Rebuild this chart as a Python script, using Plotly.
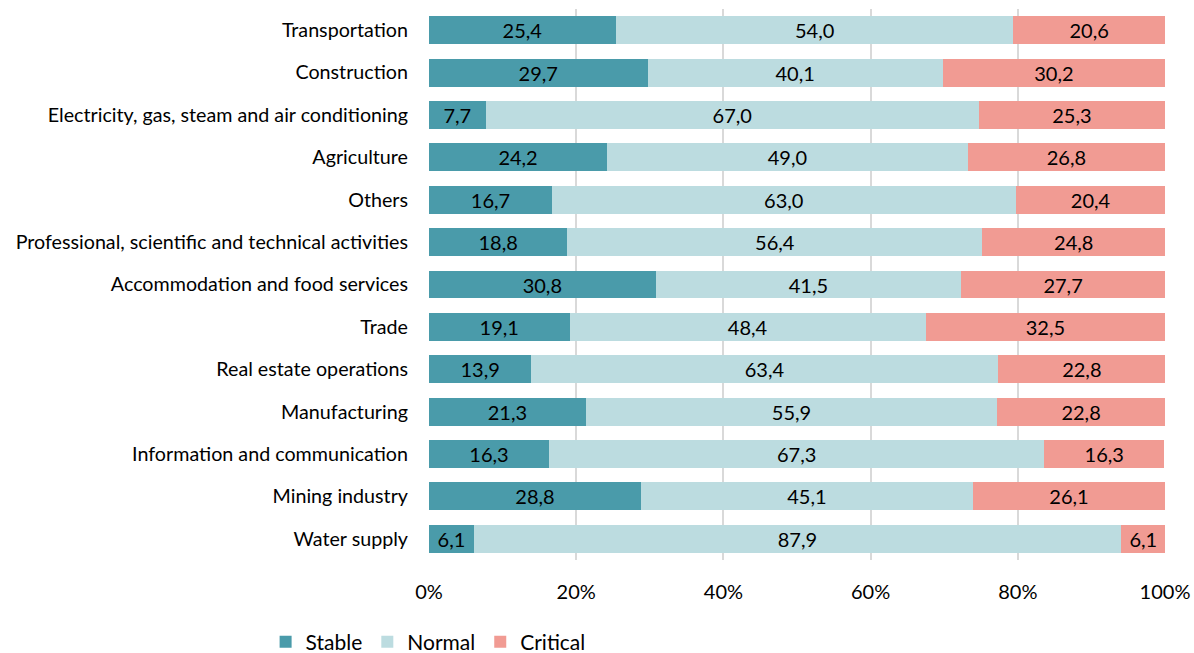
import plotly.graph_objects as go

categories = ["Transportation", "Construction", "Electricity, gas, steam and air conditioning",
              "Agriculture", "Others", "Professional, scientific and technical activities",
              "Accommodation and food services", "Trade", "Real estate operations",
              "Manufacturing", "Information and communication", "Mining industry", "Water supply"]
stable = [25.4, 29.7, 7.7, 24.2, 16.7, 18.8, 30.8, 19.1, 13.9, 21.3, 16.3, 28.8, 6.1]
normal = [54.0, 40.1, 67.0, 49.0, 63.0, 56.4, 41.5, 48.4, 63.4, 55.9, 67.3, 45.1, 87.9]
critical = [20.6, 30.2, 25.3, 26.8, 20.4, 24.8, 27.7, 32.5, 22.8, 22.8, 16.3, 26.1, 6.1]
tick_vals = [0, 20, 40, 60, 80, 100]
tick_text = ["0%", "20%", "40%", "60%", "80%", "100%"]

FONT = "Lato"
series = [("Stable", stable, "#4A9BAA"), ("Normal", normal, "#BCDCE0"), ("Critical", critical, "#F19B93")]

fig = go.Figure()
for name, vals, col in series:
    fig.add_trace(go.Bar(
        y=categories, x=vals, name=name, orientation="h",
        marker=dict(color=col, line=dict(width=0)),
        text=[f"{v:.1f}".replace(".", ",") for v in vals],
        textposition="inside", insidetextanchor="middle",
        textfont=dict(family=FONT, size=20, color="black"),
        constraintext="none",
    ))

fig.update_layout(
    barmode="stack", bargap=0.34,
    width=1194, height=673,
    margin=dict(l=429, r=29, t=9, b=113),
    plot_bgcolor="white", paper_bgcolor="white",
    font=dict(family=FONT, size=20, color="black"),
    uniformtext=dict(minsize=20, mode="show"),
    xaxis=dict(range=[0, 100], tickvals=tick_vals, ticktext=tick_text, automargin=False,
               showgrid=True, gridcolor="#D9D9D9", gridwidth=1.5, zeroline=False,
               tickfont=dict(size=20), ticks="", ticklabelstandoff=18, fixedrange=True),
    yaxis=dict(autorange="reversed", ticks="", tickfont=dict(size=19.7), automargin=False,
               ticklabelstandoff=20, showgrid=False),
    legend=dict(orientation="h", x=-0.222, xanchor="left", y=-0.1488, yanchor="middle",
                font=dict(size=21), itemwidth=30, traceorder="normal"),
    showlegend=True,
)

fig.write_html("out.html", config={"displayModeBar": False},
               post_script="document.body.style.margin='0';document.body.style.overflow='hidden';")
